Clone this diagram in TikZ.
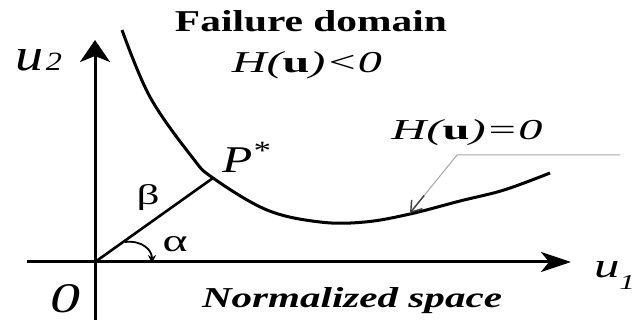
\documentclass[tikz,border=0pt]{standalone}
\usepackage{fontspec}
\setmainfont{Liberation Serif}
\usetikzlibrary{arrows.meta,calc}
\begin{document}
\begin{tikzpicture}[x=0.5pt,y=-0.5pt,
  axisline/.style={line width=1.5pt},
  curveline/.style={line width=1.5pt},
  txt/.style={inner sep=0pt, anchor=base},
  leader/.style={gray!70, line width=0.5pt},
]
\useasboundingbox (0,0) rectangle (643,320);
% key points
\coordinate (O) at (95,262);
\coordinate (yb) at (95,320);
\coordinate (yt) at (95,40);
\coordinate (xl) at (27,262);
\coordinate (xr) at (571,262);
\coordinate (P) at (213,178);
\coordinate (a1) at (125,242);
\coordinate (a2) at (152,263);
\coordinate (g1) at (620,155);
\coordinate (g2) at (457,155);
\coordinate (g3) at (410,213);
% axes
\draw[axisline, -{Stealth[length=11pt,width=15pt,inset=3pt]}] (yb) -- (yt);
\draw[axisline, -{Stealth[length=15pt,width=10pt,inset=4pt]}] (xl) -- (xr);
% limit state curve
\draw[curveline] plot[smooth, tension=0.6] coordinates
  {(122,30) (150,97) (192,157) (213,178) (267,210) (320,222) (365,222)
   (410,214) (460,201) (504,190) (550,173)};
% beta line
\draw[axisline, line width=1.3pt] (O) -- (P);
% alpha arc
\draw[line width=0.9pt, -{Stealth[length=4pt,width=4pt]}] (a1) .. controls (142,240) and (152,250) .. (a2);
% leader
\draw[leader] (g1) -- (g2) -- (g3);
\draw[black!75, line width=0.7pt, -{Straight Barb[length=5pt,width=7pt]}] ($(g2)!0.7!(g3)$) -- (g3);
% labels
\node[txt] (fd) at (311,32) {\resizebox{136pt}{10.5pt}{\bfseries Failure domain}};
\node[txt] (hl) at (307,73) {\resizebox{75pt}{10.5pt}{\itshape H(\textbf{\upshape u})<0}};
\node[txt] (he) at (467,140) {\resizebox{75.5pt}{10pt}{\itshape H(\textbf{\upshape u})=0}};
\node[txt] (ps) at (247,173) {\resizebox{25pt}{15.5pt}{\itshape P\textsuperscript{*}}};
\node[txt] (ns) at (352,308) {\resizebox{150pt}{10pt}{\bfseries\itshape Normalized space}};
\node[txt] (u2) at (38.5,71) {\resizebox{23.5pt}{10.5pt}{{\fontsize{20}{20}\selectfont\itshape u}\kern1pt{\fontsize{11.5}{12}\selectfont\itshape 2}}};
\node[txt] (u1) at (614.5,278) {\resizebox{20.5pt}{8pt}{{\fontsize{18}{18}\selectfont\itshape u}{\fontsize{11}{11}\selectfont\raisebox{-6pt}{\itshape 1}}}};
\node[txt] (zero) at (65,313) {\resizebox{15pt}{14pt}{\itshape 0}};
\node[txt] (beta) at (148,205) {\resizebox{11.5pt}{10pt}{β}};
\node[txt] (alpha) at (175,252) {\resizebox{12.5pt}{7.5pt}{α}};
\end{tikzpicture}
\end{document}
